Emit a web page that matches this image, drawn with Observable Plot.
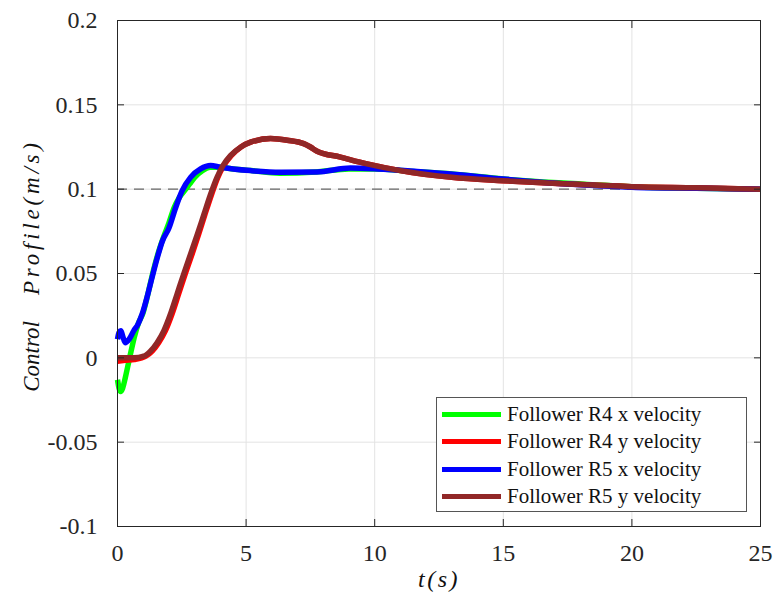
<!DOCTYPE html>
<html>
<head>
<meta charset="utf-8">
<script src="https://cdn.jsdelivr.net/npm/d3@7"></script>
<script src="https://cdn.jsdelivr.net/npm/@observablehq/plot@0.6"></script>
<style>
  html, body { margin: 0; padding: 0; background: #fff; }
  #wrap { position: relative; width: 774px; height: 597px; font-family: "Liberation Serif", "Times New Roman", serif; }
  #wrap svg text { font-family: "Liberation Serif", "Times New Roman", serif; }
  #legend { position: absolute; left: 436px; top: 397px; width: 309px; height: 113px; background: #fff; border: 1.5px solid #555; box-sizing: content-box; }
  .row { position: absolute; left: 0; height: 27px; display: flex; align-items: center; }
  .sw { width: 59px; height: 5px; margin-left: 5px; margin-right: 6px; }
  .lt { font-size: 21px; color: #111; white-space: nowrap; }
</style>
</head>
<body>
<div id="wrap"></div>
<script>
// ---- data ----
const seriesNames = ["Follower R4 x velocity", "Follower R4 y velocity", "Follower R5 x velocity", "Follower R5 y velocity"];
const seriesColors = ["#00ff00", "#ff0000", "#0000ff", "#912727"];

const r4xT = [0, 0.06, 0.12, 0.2, 0.3, 0.4, 0.5, 0.65, 0.8, 1.0, 1.2, 1.4, 1.6, 1.8, 2.0, 2.2, 2.4, 2.6, 2.8, 3.0, 3.3, 3.6, 4.0, 4.5, 5.2, 6.3, 7.7, 9.0, 10.0, 11.5, 13.0, 15.0, 17.5, 20.0, 22.5, 25.0];
const r4xV = [-0.013, -0.018, -0.02, -0.018, -0.012, -0.005, 0.002, 0.012, 0.02, 0.027, 0.039, 0.052, 0.063, 0.072, 0.08, 0.089, 0.095, 0.099, 0.103, 0.107, 0.111, 0.113, 0.113, 0.112, 0.111, 0.1095, 0.1102, 0.112, 0.112, 0.1105, 0.109, 0.106, 0.1035, 0.1015, 0.1005, 0.1];

const r4yT = [0, 0.3, 0.65, 1.1, 1.35, 1.6, 1.86, 2.12, 2.38, 2.64, 2.9, 3.15, 3.4, 3.66, 3.9, 4.13, 4.4, 4.8, 5.2, 5.95, 6.6, 7.24, 7.5, 7.76, 8.67, 9.7, 11.0, 13.0, 15.0, 17.5, 20.0, 22.5, 25.0];
const r4yV = [-0.002, -0.0015, -0.001, 0.001, 0.004, 0.009, 0.016, 0.026, 0.038, 0.05, 0.0615, 0.073, 0.085, 0.097, 0.107, 0.114, 0.1195, 0.125, 0.128, 0.13, 0.129, 0.127, 0.125, 0.1225, 0.119, 0.115, 0.111, 0.107, 0.105, 0.103, 0.1015, 0.1008, 0.1];

const r5xT = [0, 0.06, 0.13, 0.2, 0.3, 0.45, 0.63, 0.8, 0.96, 1.15, 1.35, 1.54, 1.74, 2.0, 2.26, 2.51, 2.84, 3.23, 3.62, 4.0, 4.5, 5.17, 6.34, 7.76, 9.06, 10.1, 11.65, 12.95, 15.0, 17.5, 20.0, 22.5, 25.0];
const r5xV = [0.011, 0.015, 0.016, 0.013, 0.009, 0.011, 0.016, 0.02, 0.026, 0.036, 0.048, 0.059, 0.069, 0.077, 0.089, 0.099, 0.107, 0.112, 0.114, 0.113, 0.112, 0.111, 0.11, 0.1102, 0.1125, 0.112, 0.1105, 0.109, 0.106, 0.103, 0.1012, 0.1005, 0.1];

const r5yT = [0, 0.3, 0.63, 1.02, 1.28, 1.54, 1.8, 2.06, 2.32, 2.58, 2.84, 3.1, 3.36, 3.62, 3.87, 4.1, 4.4, 4.8, 5.2, 5.95, 6.6, 7.24, 7.5, 7.76, 8.67, 9.7, 11.0, 13.0, 15.0, 17.5, 20.0, 22.5, 25.0];
const r5yV = [0, 0, 0, 0.001, 0.004, 0.009, 0.016, 0.026, 0.038, 0.05, 0.0615, 0.073, 0.085, 0.097, 0.107, 0.114, 0.12, 0.125, 0.128, 0.13, 0.129, 0.127, 0.125, 0.1225, 0.119, 0.115, 0.111, 0.107, 0.105, 0.103, 0.1015, 0.1008, 0.1];

const referenceValue = [0.1];
const xTicks = [0, 5, 10, 15, 20, 25];
const yTicks = [-0.1, -0.05, 0, 0.05, 0.1, 0.15, 0.2];
const yTickLabels = ["-0.1", "-0.05", "0", "0.05", "0.1", "0.15", "0.2"];
const xLabel = "t(s)";
const yLabelWords = ["Control", "Profile(m/s)"];
const yLabel = yLabelWords.join(" ");

// ---- build table ----
const allT = [r4xT, r4yT, r5xT, r5yT];
const allV = [r4xV, r4yV, r5xV, r5yV];
const rows = [];
seriesNames.forEach((name, i) => {
  allT[i].forEach((t, j) => rows.push({series: name, t, v: allV[i][j]}));
});

const tickFont = {fontSize: 24, fontFamily: "Liberation Serif", fill: "#262626"};

const chart = Plot.plot({
  width: 774,
  height: 597,
  marginLeft: 117,
  marginRight: 14,
  marginTop: 20,
  marginBottom: 71,
  style: {background: "#fff"},
  x: {domain: [0, 25]},
  y: {domain: [-0.1, 0.2]},
  color: {domain: seriesNames, range: seriesColors},
  marks: [
    Plot.gridX(xTicks, {stroke: "#e3e3e3", strokeOpacity: 1}),
    Plot.gridY(yTicks, {stroke: "#e3e3e3", strokeOpacity: 1}),
    Plot.ruleY(referenceValue, {stroke: "#666", strokeWidth: 1.2, strokeDasharray: "10,7"}),
    ...seriesNames.map((name, i) => Plot.line(rows.filter(d => d.series === name), {
      x: "t", y: "v", stroke: seriesColors[i], strokeWidth: 5.5, curve: "monotone-x", strokeLinejoin: "round", strokeLinecap: "butt"
    })),
    Plot.frame({stroke: "#262626", strokeWidth: 1}),
    Plot.axisX(xTicks, {anchor: "bottom", tickSize: -7, tickPadding: 24, stroke: "#262626", label: null, tickFormat: d => String(d), ...tickFont}),
    Plot.axisX(xTicks, {anchor: "top", tickSize: -7, stroke: "#262626", label: null, tickFormat: () => ""}),
    Plot.axisY(yTicks, {anchor: "left", tickSize: -7, tickPadding: 27, stroke: "#262626", label: null, tickFormat: d => yTickLabels[yTicks.indexOf(d)], ...tickFont}),
    Plot.axisY(yTicks, {anchor: "right", tickSize: -7, stroke: "#262626", label: null, tickFormat: () => ""}),
    Plot.text([xLabel], {frameAnchor: "bottom", dy: 60, fontSize: 24, fontStyle: "italic", fontFamily: "Liberation Serif", fill: "#111"}),
    Plot.text([yLabel], {frameAnchor: "left", textAnchor: "middle", dx: -86, dy: -8, rotate: -90, fontSize: 23, fontStyle: "italic", fontFamily: "Liberation Serif", fill: "#111"})
  ]
});

// serif font everywhere + letter-spacing tweaks to mimic LaTeX math italic
d3.select(chart).selectAll("text").style("font-family", "'Liberation Serif', 'Times New Roman', serif");
d3.select(chart).selectAll("text").each(function() {
  const el = d3.select(this);
  if (this.textContent === xLabel) {
    el.style("letter-spacing", "2.5px");
  } else if (this.textContent === yLabel) {
    el.text(null);
    el.append("tspan").text(yLabelWords[0]);
    el.append("tspan").attr("dx", 26).style("letter-spacing", "3.8px").text(yLabelWords[1]);
  }
});

const wrap = document.getElementById("wrap");
wrap.appendChild(chart);

const legend = document.createElement("div");
legend.id = "legend";
seriesNames.forEach((name, i) => {
  const row = document.createElement("div");
  row.className = "row";
  row.style.top = (3 + i * 27.3) + "px";
  const sw = document.createElement("div");
  sw.className = "sw";
  sw.style.background = seriesColors[i];
  const lt = document.createElement("span");
  lt.className = "lt";
  lt.textContent = name;
  row.appendChild(sw);
  row.appendChild(lt);
  legend.appendChild(row);
});
wrap.appendChild(legend);
</script>
</body>
</html>
